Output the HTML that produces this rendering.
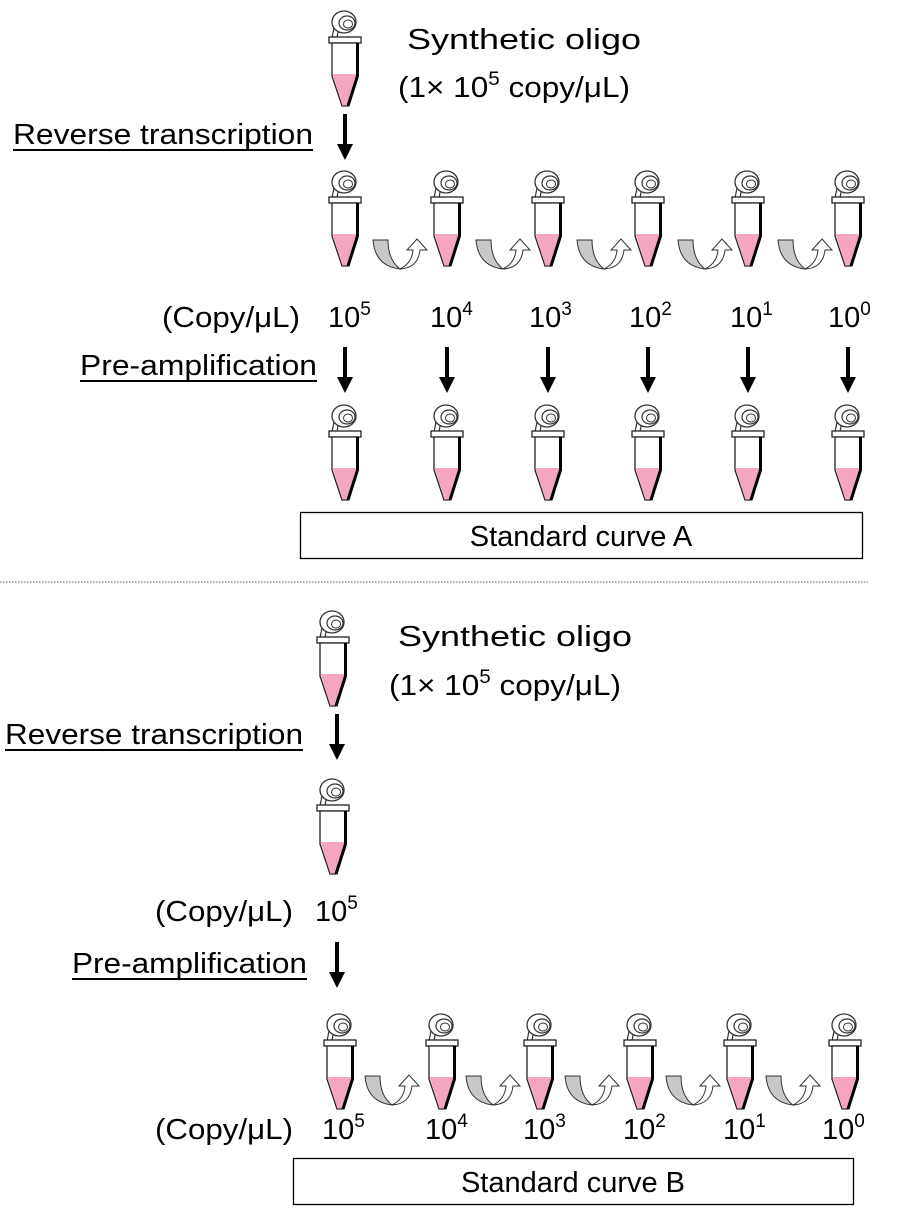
<!DOCTYPE html>
<html><head><meta charset="utf-8"><style>html,body{margin:0;padding:0;background:#fff}svg{display:block}</style></head>
<body>
<svg width="900" height="1219" viewBox="0 0 900 1219" xmlns="http://www.w3.org/2000/svg" font-family="Liberation Sans, Arial, sans-serif" font-size="29" fill="#000">
<defs>
<symbol id="tube" viewBox="0 0 32 98" width="32" height="98" overflow="visible">
  <ellipse cx="15" cy="12" rx="12" ry="11" fill="#fff" stroke="#333" stroke-width="1.3"/>
  <ellipse cx="18" cy="13" rx="8" ry="7" fill="#fff" stroke="#333" stroke-width="1.2"/>
  <ellipse cx="19" cy="14" rx="4.5" ry="4" fill="#fff" stroke="#333" stroke-width="1"/>
  <path d="M5,18 L3,28 M9,22 L8,28" stroke="#333" stroke-width="1.2" fill="none"/>
  <rect x="0" y="27" width="32" height="6" fill="#fff" stroke="#222" stroke-width="1.3"/>
  <path d="M3,33 L3,66 L13,96 L19,96 L29,66 L29,33 Z" fill="#fff" stroke="#222" stroke-width="1.3"/>
  <path d="M3.6,64 L13.4,95.5 L18.6,95.5 L28.4,64 Z" fill="#f4a6c0"/>
  <path d="M28.5,33 L28.5,66 L19,96" stroke="#000" stroke-width="3" fill="none"/>
</symbol>
<symbol id="carrow" viewBox="0 0 54 32" width="54" height="32" overflow="visible">
  <path d="M0,2 L15,2 Q15,22 27,31 Q2,28 0,2 Z" fill="#c8c8c8" stroke="#333" stroke-width="1"/>
  <path d="M27,31 Q39,25 40,12 L34,12 L44,1 L54,12 L47,12 Q45,30 27,31 Z" fill="#fff" stroke="#333" stroke-width="1"/>
</symbol>
<symbol id="darr" viewBox="0 0 16 46" width="16" height="46" overflow="visible">
  <rect x="6" y="0" width="4" height="32" fill="#000"/>
  <path d="M0,30 L16,30 L8,46 Z" fill="#000"/>
</symbol>
</defs>

<!-- Section A -->
<use href="#tube" x="329" y="10"/>
<text x="407" y="49" textLength="234" lengthAdjust="spacingAndGlyphs">Synthetic oligo</text>
<text x="398" y="97" textLength="232" lengthAdjust="spacingAndGlyphs">(1× 10<tspan font-size="19" dy="-12">5</tspan><tspan dy="12"> copy/μL)</tspan></text>
<text x="13" y="144" textLength="300" lengthAdjust="spacingAndGlyphs">Reverse transcription</text>
<rect x="13" y="149" width="300" height="2"/>
<use href="#darr" x="337" y="114"/>

<use href="#tube" x="329" y="170"/>
<use href="#tube" x="431" y="170"/>
<use href="#tube" x="532" y="170"/>
<use href="#tube" x="632" y="170"/>
<use href="#tube" x="732" y="170"/>
<use href="#tube" x="832" y="170"/>
<use href="#carrow" x="373" y="238"/>
<use href="#carrow" x="476" y="238"/>
<use href="#carrow" x="577" y="238"/>
<use href="#carrow" x="678" y="238"/>
<use href="#carrow" x="778" y="238"/>

<text x="162" y="327" textLength="138" lengthAdjust="spacingAndGlyphs">(Copy/μL)</text>
<text x="328" y="327">10<tspan font-size="19" dy="-12">5</tspan></text>
<text x="430" y="327">10<tspan font-size="19" dy="-12">4</tspan></text>
<text x="529" y="327">10<tspan font-size="19" dy="-12">3</tspan></text>
<text x="629" y="327">10<tspan font-size="19" dy="-12">2</tspan></text>
<text x="730" y="327">10<tspan font-size="19" dy="-12">1</tspan></text>
<text x="828" y="327">10<tspan font-size="19" dy="-12">0</tspan></text>

<text x="80" y="375" textLength="237" lengthAdjust="spacingAndGlyphs">Pre-amplification</text>
<rect x="80" y="380" width="237" height="2"/>
<use href="#darr" x="337" y="347"/>
<use href="#darr" x="439" y="347"/>
<use href="#darr" x="540" y="347"/>
<use href="#darr" x="640" y="347"/>
<use href="#darr" x="740" y="347"/>
<use href="#darr" x="840" y="347"/>

<use href="#tube" x="329" y="404"/>
<use href="#tube" x="431" y="404"/>
<use href="#tube" x="532" y="404"/>
<use href="#tube" x="632" y="404"/>
<use href="#tube" x="732" y="404"/>
<use href="#tube" x="832" y="404"/>

<rect x="300.5" y="512.5" width="562" height="46" fill="#fff" stroke="#000" stroke-width="1.3"/>
<text x="581" y="546" text-anchor="middle">Standard curve A</text>

<line x1="0" y1="582" x2="868" y2="582" stroke="#666" stroke-width="1" stroke-dasharray="1.5,1.5"/>

<!-- Section B -->
<use href="#tube" x="317" y="610"/>
<text x="398" y="646" textLength="234" lengthAdjust="spacingAndGlyphs">Synthetic oligo</text>
<text x="389" y="695" textLength="232" lengthAdjust="spacingAndGlyphs">(1× 10<tspan font-size="19" dy="-12">5</tspan><tspan dy="12"> copy/μL)</tspan></text>
<text x="5" y="744" textLength="298" lengthAdjust="spacingAndGlyphs">Reverse transcription</text>
<rect x="5" y="749" width="298" height="2"/>
<use href="#darr" x="329" y="714"/>

<use href="#tube" x="317" y="778"/>
<text x="155" y="921" textLength="138" lengthAdjust="spacingAndGlyphs">(Copy/μL)</text>
<text x="315" y="921">10<tspan font-size="19" dy="-12">5</tspan></text>
<text x="72" y="973" textLength="235" lengthAdjust="spacingAndGlyphs">Pre-amplification</text>
<rect x="72" y="978" width="235" height="2"/>
<use href="#darr" x="329" y="942"/>

<use href="#tube" x="324" y="1013"/>
<use href="#tube" x="426" y="1013"/>
<use href="#tube" x="524" y="1013"/>
<use href="#tube" x="624" y="1013"/>
<use href="#tube" x="724" y="1013"/>
<use href="#tube" x="829" y="1013"/>
<use href="#carrow" x="365" y="1074"/>
<use href="#carrow" x="466" y="1074"/>
<use href="#carrow" x="565" y="1074"/>
<use href="#carrow" x="666" y="1074"/>
<use href="#carrow" x="766" y="1074"/>

<text x="155" y="1139" textLength="138" lengthAdjust="spacingAndGlyphs">(Copy/μL)</text>
<text x="322" y="1139">10<tspan font-size="19" dy="-12">5</tspan></text>
<text x="425" y="1139">10<tspan font-size="19" dy="-12">4</tspan></text>
<text x="523" y="1139">10<tspan font-size="19" dy="-12">3</tspan></text>
<text x="623" y="1139">10<tspan font-size="19" dy="-12">2</tspan></text>
<text x="723" y="1139">10<tspan font-size="19" dy="-12">1</tspan></text>
<text x="822" y="1139">10<tspan font-size="19" dy="-12">0</tspan></text>

<rect x="293.5" y="1158.5" width="560" height="46" fill="#fff" stroke="#000" stroke-width="1.3"/>
<text x="573" y="1192" text-anchor="middle">Standard curve B</text>
</svg>
</body></html>
